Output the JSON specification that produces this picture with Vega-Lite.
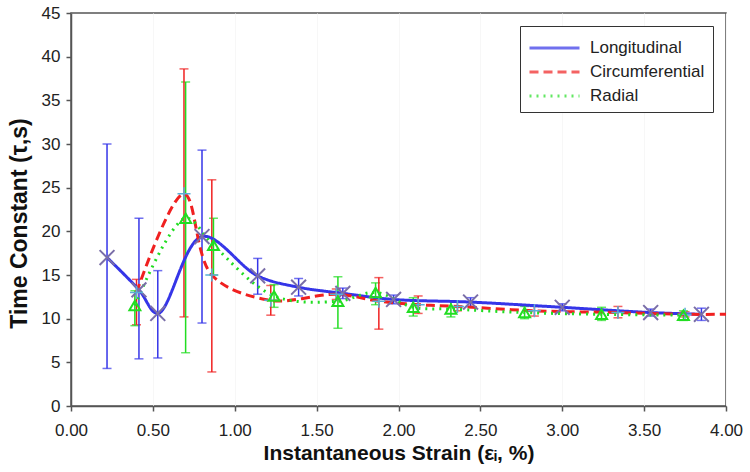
{
  "$schema": "https://vega.github.io/schema/vega-lite/v6.json",
  "width": 655,
  "height": 393,
  "autosize": {"type": "none"},
  "padding": {"left": 71, "top": 13, "right": 24, "bottom": 66},
  "background": "white",
  "config": {
    "font": "Liberation Sans",
    "view": {"stroke": "#555", "strokeWidth": 1.5},
    "legend": {
      "orient": "top-right",
      "offset": 13,
      "symbolType": "M-1,0L3,0",
      "symbolSize": 625,
      "symbolStrokeWidth": 3,
      "labelFontSize": 17,
      "labelColor": "#222",
      "strokeColor": "#333",
      "fillColor": "white",
      "padding": 8,
      "rowPadding": 2,
      "labelOffset": 34
    }
  },
  "data": {
    "values": [
      {"series": "Longitudinal", "strain": 0.22, "tau": 17.0, "lo": 4.3, "hi": 30.0},
      {"series": "Longitudinal", "strain": 0.415, "tau": 13.3, "lo": 5.4, "hi": 21.5},
      {"series": "Longitudinal", "strain": 0.53, "tau": 10.6, "lo": 5.5, "hi": 15.5},
      {"series": "Longitudinal", "strain": 0.80, "tau": 19.4, "lo": 9.5, "hi": 29.3},
      {"series": "Longitudinal", "strain": 1.14, "tau": 14.9, "lo": 12.8, "hi": 16.9},
      {"series": "Longitudinal", "strain": 1.39, "tau": 13.6, "lo": 12.6, "hi": 14.6},
      {"series": "Longitudinal", "strain": 1.66, "tau": 12.9, "lo": 12.3, "hi": 13.5},
      {"series": "Longitudinal", "strain": 1.97, "tau": 12.2, "lo": 11.7, "hi": 12.7},
      {"series": "Longitudinal", "strain": 2.44, "tau": 11.9, "lo": 11.4, "hi": 12.4},
      {"series": "Longitudinal", "strain": 3.00, "tau": 11.3, "lo": 10.9, "hi": 11.7},
      {"series": "Longitudinal", "strain": 3.54, "tau": 10.7, "lo": 10.3, "hi": 11.1},
      {"series": "Longitudinal", "strain": 3.85, "tau": 10.5, "lo": 9.8, "hi": 11.2},
      {"series": "Circumferential", "strain": 0.40, "tau": 13.0, "lo": 9.3, "hi": 14.5},
      {"series": "Circumferential", "strain": 0.69, "tau": 24.3, "lo": 10.2, "hi": 38.6},
      {"series": "Circumferential", "strain": 0.86, "tau": 15.0, "lo": 3.9, "hi": 25.9},
      {"series": "Circumferential", "strain": 1.22, "tau": 12.1, "lo": 10.4, "hi": 13.8},
      {"series": "Circumferential", "strain": 1.62, "tau": 12.8, "lo": 12.2, "hi": 13.4},
      {"series": "Circumferential", "strain": 1.88, "tau": 12.0, "lo": 8.8, "hi": 14.7},
      {"series": "Circumferential", "strain": 2.12, "tau": 11.6, "lo": 10.6, "hi": 12.6},
      {"series": "Circumferential", "strain": 2.36, "tau": 11.4, "lo": 10.9, "hi": 11.9},
      {"series": "Circumferential", "strain": 2.83, "tau": 10.9, "lo": 10.3, "hi": 11.4},
      {"series": "Circumferential", "strain": 3.34, "tau": 10.7, "lo": 10.1, "hi": 11.4},
      {"series": "Circumferential", "strain": 3.75, "tau": 10.5, "lo": 10.2, "hi": 10.8},
      {"series": "Circumferential", "strain": 4.00, "tau": 10.5, "lo": null, "hi": null},
      {"series": "Radial", "strain": 0.39, "tau": 11.5, "lo": 9.2, "hi": 13.2},
      {"series": "Radial", "strain": 0.70, "tau": 21.5, "lo": 6.1, "hi": 37.1},
      {"series": "Radial", "strain": 0.87, "tau": 18.4, "lo": 15.0, "hi": 21.5},
      {"series": "Radial", "strain": 1.24, "tau": 12.6, "lo": 11.3, "hi": 13.9},
      {"series": "Radial", "strain": 1.63, "tau": 12.0, "lo": 8.9, "hi": 14.8},
      {"series": "Radial", "strain": 1.86, "tau": 13.0, "lo": 11.6, "hi": 14.1},
      {"series": "Radial", "strain": 2.09, "tau": 11.3, "lo": 10.3, "hi": 12.4},
      {"series": "Radial", "strain": 2.32, "tau": 11.1, "lo": 10.2, "hi": 12.0},
      {"series": "Radial", "strain": 2.77, "tau": 10.7, "lo": 10.0, "hi": 11.4},
      {"series": "Radial", "strain": 3.24, "tau": 10.5, "lo": 9.8, "hi": 11.3},
      {"series": "Radial", "strain": 3.74, "tau": 10.4, "lo": 9.8, "hi": 10.9}
    ]
  },
  "layer": [
    {
      "transform": [{"filter": "isValid(datum.lo)"}],
      "mark": {"type": "errorbar", "ticks": {"size": 9, "thickness": 1.5}, "thickness": 1.5},
      "encoding": {
        "x": {
          "field": "strain", "type": "quantitative",
          "scale": {"domain": [0, 4], "nice": false, "zero": false},
          "axis": {
            "title": "Instantaneous Strain (εᵢ, %)",
            "values": [0, 0.5, 1, 1.5, 2, 2.5, 3, 3.5, 4],
            "format": ".2f",
            "labelFlush": false, "labelOverlap": false,
            "labelFontSize": 17, "labelColor": "#222", "labelPadding": 11,
            "tickSize": 5, "tickColor": "#555", "domainColor": "#555", "tickWidth": 1.5, "domainWidth": 1.5,
            "titleFontSize": 21, "titleFontWeight": "bold", "titleColor": "#111", "titlePadding": 4,
            "grid": true, "gridColor": "#f7f7f7"
          }
        },
        "y": {
          "field": "lo", "type": "quantitative",
          "scale": {"domain": [0, 45], "nice": false},
          "axis": {
            "title": "Time Constant (τ,s)",
            "values": [0, 5, 10, 15, 20, 25, 30, 35, 40, 45],
            "labelFlush": false, "labelOverlap": false,
            "labelFontSize": 17, "labelColor": "#222", "labelPadding": 6,
            "tickSize": 5, "tickColor": "#555", "domainColor": "#555", "tickWidth": 1.5, "domainWidth": 1.5,
            "titleFontSize": 23, "titleFontWeight": "bold", "titleColor": "#111", "titlePadding": 10,
            "titleY": 210,
            "grid": false
          }
        },
        "y2": {"field": "hi"},
        "color": {
          "field": "series", "type": "nominal",
          "scale": {"domain": ["Longitudinal", "Circumferential", "Radial"], "range": ["#3535e8", "#f02020", "#22dd22"]},
          "legend": {"title": null}
        }
      }
    },
    {
      "mark": {"type": "line", "interpolate": "catmull-rom", "strokeWidth": 3},
      "encoding": {
        "x": {"field": "strain", "type": "quantitative"},
        "y": {"field": "tau", "type": "quantitative"},
        "color": {"field": "series", "type": "nominal"},
        "strokeDash": {
          "field": "series", "type": "nominal",
          "scale": {"domain": ["Longitudinal", "Circumferential", "Radial"], "range": [[1, 0], [9, 5], [2, 5]]},
          "legend": {"title": null}
        }
      }
    },
    {
      "transform": [{"filter": "datum.series === 'Longitudinal'"}],
      "mark": {"type": "point", "shape": "M-1,-1L1,1M-1,1L1,-1", "size": 220, "filled": false, "stroke": "#7a6ea8", "strokeWidth": 2, "opacity": 1},
      "encoding": {
        "x": {"field": "strain", "type": "quantitative"},
        "y": {"field": "tau", "type": "quantitative"}
      }
    },
    {
      "transform": [{"filter": "datum.series === 'Circumferential' && isValid(datum.lo)"}],
      "mark": {"type": "point", "shape": "M-1,0L1,0M0,-1L0,1", "size": 170, "filled": false, "stroke": "#5aaed6", "strokeWidth": 1.5, "opacity": 1},
      "encoding": {
        "x": {"field": "strain", "type": "quantitative"},
        "y": {"field": "tau", "type": "quantitative"}
      }
    },
    {
      "transform": [{"filter": "datum.series === 'Radial'"}],
      "mark": {"type": "point", "shape": "triangle-up", "size": 120, "filled": false, "stroke": "#22dd22", "strokeWidth": 2, "opacity": 1},
      "encoding": {
        "x": {"field": "strain", "type": "quantitative"},
        "y": {"field": "tau", "type": "quantitative"}
      }
    }
  ]
}
